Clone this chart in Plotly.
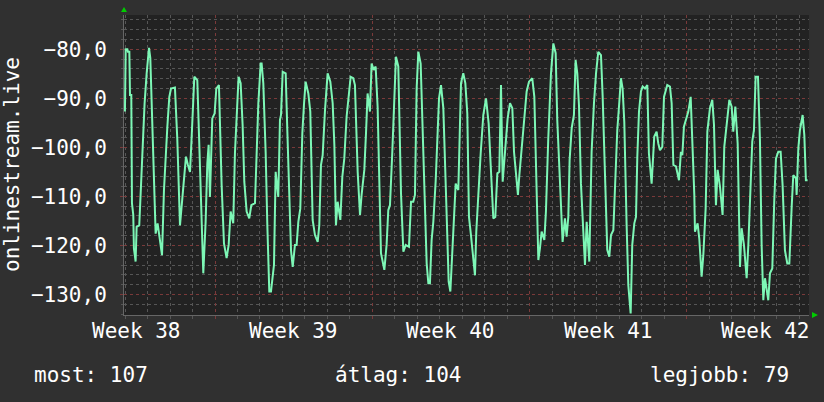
import plotly.graph_objects as go

# hours relative to the start of Week 39
hours = [
    -96.2, -95.4, -93.6, -93.0, -91.5, -90.8, -89.4, -88.7, -87.3, -86.6,
    -84.8, -83.7, -80.9, -79.4, -77.3, -75.2, -73.0, -71.6, -70.5, -69.1,
    -67.3, -64.8, -63.4, -61.3, -58.8, -56.6, -54.5, -52.7, -50.9, -48.8,
    -47.0, -42.8, -40.3, -37.4, -35.3, -32.8, -31.0, -28.9, -26.7, -25.0,
    -22.1, -18.9, -16.8, -14.3, -12.5, -10.0, -8.2, -6.8, -5.4, -2.9,
    -0.4, 1.4, 4.2, 7.1, 9.6, 12.4, 14.6, 16.7, 19.5, 21.3,
    23.1, 25.2, 27.4, 29.5, 31.3, 33.8, 36.6, 38.8, 42.7,
    44.5, 46.3, 48.8, 49.8, 51.6, 54.1, 55.9, 58.0, 59.8, 61.2,
    63.0, 64.8, 67.6, 69.4, 70.5, 72.3, 75.5, 77.3, 79.4, 81.2,
    83.0, 85.4, 87.2, 89.0, 91.1, 93.3, 95.0, 96.8, 99.7, 101.8,
    104.3, 106.8, 109.7, 111.4, 113.2, 115.0, 117.5, 120.3, 123.2, 125.7,
    127.5, 129.2, 131.0, 133.9, 136.0, 138.1, 140.6, 142.4, 144.9, 147.7,
    149.5, 152.4, 154.9, 156.6, 159.5, 161.3, 163.0, 165.5, 167.3, 169.5,
    171.6, 173.7, 175.5, 177.3, 180.9, 183.3, 185.1,
    186.9, 189.4, 191.2, 193.3, 195.8, 198.7, 201.2, 203.7, 207.2, 209.4,
    211.8, 213.6, 215.4, 217.2, 219.7, 221.5, 223.6, 226.1, 227.9, 229.6,
    231.4, 233.2, 235.7, 239.3, 241.4, 243.9, 247.4, 249.6, 251.4, 253.9,
    257.1, 259.9, 262.8, 265.2, 267.4, 269.5, 271.3, 273.4, 277.7, 279.1,
    281.3, 283.8, 286.6, 289.5, 292.3, 294.4, 297.3, 299.4, 301.6, 303.7,
    305.5, 307.3, 310.5, 312.6, 315.1, 317.6, 319.4, 322.2, 323.6, 325.1,
    326.8, 329.3,
    332.9, 335.4, 338.9, 341.1, 343.6, 345.4, 347.1, 348.9, 351.8, 353.5,
    356.0, 358.9, 361.4, 363.9, 365.6, 368.1, 369.6, 371.3, 373.8, 375.6,
    377.4, 378.8, 381.0, 383.4, 385.2, 387.0, 388.8, 390.9, 395.2, 397.0,
    399.8, 402.3, 404.8, 407.0, 409.4, 412.3, 414.1, 416.6, 419.0, 421.2,
    423.0, 425.5, 427.2, 429.7, 431.9, 433.6, 435.4, 437.2, 439.7, 441.5,
    444.0, 445.7, 447.9, 449.7, 451.1, 452.9, 455.0, 456.8, 459.3, 461.8,
    463.5, 466.4, 469.2, 471.7, 473.5, 475.3,
    477.8, 479.6, 483.1, 486.0, 487.8, 489.6, 492.4, 495.6, 497.7, 499.2,
    500.9, 503.1, 505.6, 508.1, 509.8, 512.0, 512.7, 515.5, 517.3, 519.8,
    521.6, 524.1, 525.9, 528.7, 531.2, 533.0, 535.1, 536.9, 539.4, 542.2,
    544.0, 546.5, 549.4, 551.9, 553.6, 555.8, 558.3, 560.8, 562.5, 565.0,
    567.9, 569.7, 571.4, 573.9, 575.7, 577.5, 580.0, 582.1, 583.9, 585.7,
    587.5, 591.0, 592.8, 595.3, 597.4, 599.2, 601.7, 604.2, 606.3, 608.8,
    611.3, 613.5, 616.0, 617.7, 620.6, 621.3, 623.1, 624.8, 627.7, 629.5,
    631.2, 633.0,
]

values = [
    -92.7, -80.0, -80.0, -80.5, -80.5, -89.3, -89.3, -111.4, -113.8, -120.6,
    -123.3, -116.2, -115.9, -108.7, -98.2, -91.0, -84.9, -81.8, -79.7, -81.8,
    -92.4, -109.4, -117.6, -115.5, -119.3, -122.0, -108.7, -101.6, -95.8, -89.7,
    -88.0, -87.8, -98.2, -115.9, -110.8, -105.0, -101.9, -103.6, -105.0, -98.2,
    -85.6, -86.3, -98.2, -112.5, -125.7, -115.2, -103.3, -99.5, -110.1, -94.1,
    -93.1, -88.0, -87.3, -107.7, -119.6, -122.6, -119.9, -113.1, -115.5, -101.2,
    -93.1, -85.6, -86.9, -95.4, -107.0, -113.1, -114.5, -111.8, -111.4,
    -101.2, -91.0, -82.9, -82.9, -86.9, -100.9, -115.9, -129.4, -129.4, -127.4,
    -124.0, -105.0, -110.1, -94.4, -93.4, -84.6, -84.9, -96.8, -112.1, -121.0,
    -124.4, -119.9, -119.9, -115.2, -112.5, -97.1, -91.4, -86.6, -89.0, -92.7,
    -114.8, -117.9, -119.3, -115.9, -103.6, -101.6, -92.4, -84.9, -86.6, -91.0,
    -99.5, -115.9, -111.1, -114.8, -106.0, -102.3, -93.7, -90.3, -85.6, -85.9,
    -87.3, -105.0, -113.8, -109.7, -104.6, -97.1, -89.0, -92.7, -82.9, -84.2,
    -83.5, -91.7, -106.7, -121.6, -125.0, -119.9, -112.8,
    -111.8, -100.9, -91.0, -81.5, -83.5, -109.4, -121.3, -119.9, -120.3, -111.1,
    -111.1, -109.7, -88.0, -80.5, -82.9, -94.1, -109.7, -123.7, -127.7, -127.7,
    -118.9, -115.2, -107.0, -90.0, -87.3, -92.0, -113.5, -127.4, -129.4, -120.6,
    -107.4, -108.7, -86.9, -84.9, -86.9, -93.1, -114.2, -117.9, -126.1, -117.2,
    -108.7, -101.2, -93.4, -90.0, -95.1, -104.3, -114.5, -114.2, -105.3, -105.0,
    -87.3, -107.0, -98.8, -94.1, -91.0, -92.0, -100.9, -107.7, -109.7, -105.7,
    -101.6, -96.5,
    -88.6, -86.6, -85.9, -89.7, -110.8, -123.0, -120.6, -117.2, -118.9, -113.1,
    -98.2, -84.9, -78.8, -80.8, -94.4, -106.0, -114.2, -119.3, -114.5, -118.2,
    -114.2, -102.6, -96.1, -93.4, -82.2, -84.9, -91.4, -107.4, -124.0, -115.2,
    -123.3, -100.9, -91.0, -84.9, -80.5, -81.2, -89.7, -107.4, -120.9, -122.3,
    -117.9, -116.9, -106.7, -96.5, -90.7, -85.9, -88.0, -94.8, -115.9, -128.1,
    -133.9, -119.9, -115.5, -114.2, -101.9, -92.7, -88.6, -87.6, -88.0, -87.3,
    -101.2, -107.4, -97.8, -96.8, -99.2, -100.6,
    -99.9, -89.7, -87.3, -87.6, -91.0, -103.6, -103.9, -106.7, -100.9, -101.6,
    -95.8, -94.1, -92.7, -89.7, -97.8, -109.7, -117.2, -115.5, -118.6, -126.4,
    -122.0, -112.5, -96.8, -92.0, -90.3, -95.4, -111.8, -104.6, -108.0, -113.8,
    -99.9, -95.1, -90.3, -91.7, -96.8, -91.7, -99.2, -124.4, -116.5, -119.9,
    -126.7, -119.9, -112.5, -98.8, -96.5, -85.6, -85.6, -98.5, -119.9, -131.2,
    -126.7, -131.2, -125.7, -124.7, -110.8, -102.3, -100.9, -100.9, -107.7, -121.0,
    -123.7, -123.7, -112.1, -105.7, -106.3, -109.7, -100.2, -96.5, -93.4, -97.5,
    -106.7, -106.7,
]

week_label_pos = [-84, 84, 252, 420, 588]
week_labels = ["Week 38", "Week 39", "Week 40", "Week 41", "Week 42"]

series_name = "onlinestream.live"
legend_items = ["most: 107", "átlag: 104", "legjobb: 79"]

x_range = [-97.2, 634.5]
y_range = [-134.2, -73.0]

FONT = "DejaVu Sans Mono"
FS = 21
TXT = "#ffffff"
LINE = "#7DF7B6"
MAJOR = "#7a3a3a"
MINOR = "#565656"

fig = go.Figure()
fig.add_trace(go.Scatter(
    x=hours, y=values, mode="lines",
    line=dict(color=LINE, width=2),
    showlegend=False, hoverinfo="skip",
))

fig.update_layout(
    width=824, height=402,
    margin=dict(l=124, r=15, t=15, b=87),
    paper_bgcolor="#303030",
    plot_bgcolor="#222222",
    separators=", ",
    font=dict(family=FONT, size=FS, color=TXT),
    showlegend=False,
)

fig.update_xaxes(
    range=x_range, tick0=0, dtick=168, automargin=False,
    showgrid=True, gridcolor=MAJOR, griddash="dot", gridwidth=1,
    showticklabels=False, ticks="outside", ticklen=3, tickcolor=MAJOR,
    showline=True, linecolor="#666666", linewidth=1,
    zeroline=False,
    minor=dict(tick0=0, dtick=24, showgrid=True, gridcolor=MINOR,
               griddash="dot", gridwidth=1, ticks="outside", ticklen=3,
               tickcolor=MINOR),
)

fig.update_yaxes(
    range=y_range, tick0=-130, dtick=10, tickformat=".1f", automargin=False,
    showgrid=True, gridcolor=MAJOR, griddash="dot", gridwidth=1,
    ticks="outside", ticklen=3, tickcolor=MAJOR,
    ticklabelstandoff=9,
    tickfont=dict(family=FONT, size=FS, color=TXT),
    showline=True, linecolor="#666666", linewidth=1,
    zeroline=False,
    minor=dict(tick0=-130, dtick=2, showgrid=True, gridcolor=MINOR,
               griddash="dot", gridwidth=1, ticks="outside", ticklen=2,
               tickcolor=MINOR),
)

# week labels, centred within each week
for pos, lab in zip(week_label_pos, week_labels):
    fig.add_annotation(x=pos, y=-0.053, xref="x", yref="paper",
                       text=lab, showarrow=False, xanchor="center",
                       yanchor="middle", font=dict(family=FONT, size=FS, color=TXT))

# vertical axis title
fig.add_annotation(x=-0.1635, y=0.5, xref="paper", yref="paper",
                   text=series_name, textangle=-90, showarrow=False,
                   xanchor="center", yanchor="middle",
                   font=dict(family=FONT, size=FS, color=TXT))

# summary row
fig.add_annotation(x=-0.1343, y=-0.2, xref="paper", yref="paper",
                   text=legend_items[0], showarrow=False, xanchor="left",
                   yanchor="middle", font=dict(family=FONT, size=FS, color=TXT))
fig.add_annotation(x=0.4, y=-0.2, xref="paper", yref="paper",
                   text=legend_items[1], showarrow=False, xanchor="center",
                   yanchor="middle", font=dict(family=FONT, size=FS, color=TXT))
fig.add_annotation(x=0.9737, y=-0.2, xref="paper", yref="paper",
                   text=legend_items[2], showarrow=False, xanchor="right",
                   yanchor="middle", font=dict(family=FONT, size=FS, color=TXT))

# small green arrow heads at axis ends
px = 1 / 685
py = 1 / 300
fig.add_shape(type="path", xref="paper", yref="paper",
              path=f"M {-3*px},{1+3*py} L {3*px},{1+3*py} L 0,{1+8*py} Z",
              fillcolor="#00cc00", line=dict(width=0))
fig.add_shape(type="path", xref="paper", yref="paper",
              path=f"M {1+3*px},{3*py} L {1+3*px},{-3*py} L {1+9*px},0 Z",
              fillcolor="#00cc00", line=dict(width=0))

fig.write_html(
    "out.html",
    config={"displayModeBar": False, "staticPlot": True},
    post_script="document.body.style.margin='0';document.body.style.background='#303030';",
)
